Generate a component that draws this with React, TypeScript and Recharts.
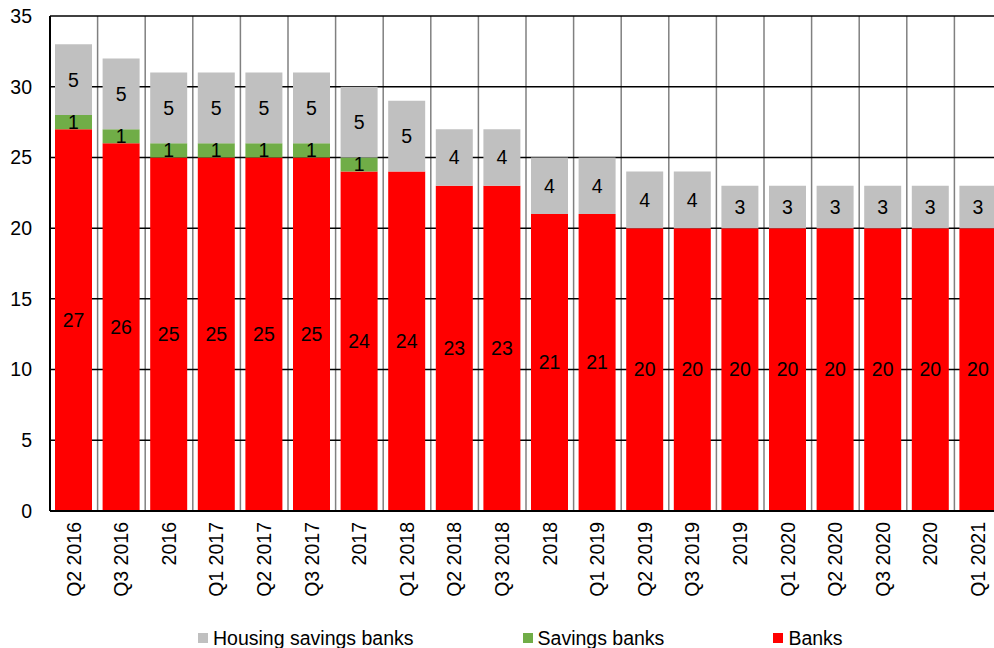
import { BarChart, Bar, XAxis, YAxis, CartesianGrid, Legend, LabelList } from 'recharts'

const categories = [
  'Q2 2016', 'Q3 2016', '2016', 'Q1 2017', 'Q2 2017', 'Q3 2017', '2017', 'Q1 2018', 'Q2 2018', 'Q3 2018',
  '2018', 'Q1 2019', 'Q2 2019', 'Q3 2019', '2019', 'Q1 2020', 'Q2 2020', 'Q3 2020', '2020', 'Q1 2021',
]
const banks = [27, 26, 25, 25, 25, 25, 24, 24, 23, 23, 21, 21, 20, 20, 20, 20, 20, 20, 20, 20]
const savingsBanks = [1, 1, 1, 1, 1, 1, 1, 0, 0, 0, 0, 0, 0, 0, 0, 0, 0, 0, 0, 0]
const housingSavingsBanks = [5, 5, 5, 5, 5, 5, 5, 5, 4, 4, 4, 4, 4, 4, 3, 3, 3, 3, 3, 3]
const yTicks = [0, 5, 10, 15, 20, 25, 30, 35]

const legendItems = [
  { name: 'Housing savings banks', color: '#C0C0C0' },
  { name: 'Savings banks', color: '#70AD47' },
  { name: 'Banks', color: '#FF0000' },
]

const data = categories.map((cat, i) => ({
  cat,
  banks: banks[i],
  savings: savingsBanks[i],
  housing: housingSavingsBanks[i],
}))

const FONT = '"Liberation Sans", Arial, sans-serif'
const FS = 19.5

// eslint-disable-next-line @typescript-eslint/no-explicit-any
function XTick({ x, y, payload }: any) {
  return (
    <g transform={`translate(${x},${y})`}>
      <text transform="rotate(-90)" x={-3} dy="0.35em" textAnchor="end" fill="#000" fontSize={FS} fontFamily={FONT}>
        {payload.value}
      </text>
    </g>
  )
}

function LegendBox() {
  return (
    <div style={{ display: 'flex', height: 26, alignItems: 'center', position: 'relative', top: 3, fontFamily: FONT, fontSize: FS, color: '#000' }}>
      {legendItems.map((it) => (
        <div key={it.name} style={{ display: 'flex', alignItems: 'center', marginRight: 109 }}>
          <span style={{ width: 10, height: 10, background: it.color, marginRight: 5 }} />
          <span>{it.name}</span>
        </div>
      ))}
    </div>
  )
}

// grid lines on the category boundaries instead of the centres
// eslint-disable-next-line @typescript-eslint/no-explicit-any
function boundaryLines({ offset }: any) {
  const n = categories.length
  return Array.from({ length: n + 1 }, (_, i) => offset.left + (i * offset.width) / n)
}

const hideZero = (v: unknown) => (v ? String(v) : '')

export default function App() {
  return (
    <div style={{ position: 'absolute', left: 0, top: 0, width: 994, height: 648, overflow: 'hidden', background: '#fff' }}>
      <BarChart width={1010} height={648} data={data} margin={{ top: 16, right: 8, left: 0, bottom: 0 }}>
        <CartesianGrid horizontal={false} stroke="#808080" strokeWidth={1.5} verticalCoordinatesGenerator={boundaryLines} />
        <CartesianGrid vertical={false} stroke="#000" strokeWidth={1.5} />
        <XAxis
          dataKey="cat"
          interval={0}
          tick={<XTick />}
          tickLine={false}
          axisLine={{ stroke: '#000', strokeWidth: 2 }}
          height={111}
        />
        <YAxis
          domain={[0, 35]}
          ticks={yTicks}
          width={50}
          tickLine={false}
          tickMargin={12}
          axisLine={{ stroke: '#000', strokeWidth: 2 }}
          tick={{ fill: '#000', fontSize: FS, fontFamily: FONT }}
        />
        <Legend verticalAlign="bottom" wrapperStyle={{ left: 198, width: 800 }} content={<LegendBox />} />
        <Bar dataKey="banks" name="Banks" stackId="a" fill="#FF0000" barSize={37} isAnimationActive={false}>
          <LabelList dataKey="banks" position="center" fill="#000" fontSize={FS} fontFamily={FONT} formatter={hideZero} />
        </Bar>
        <Bar dataKey="savings" name="Savings banks" stackId="a" fill="#70AD47" barSize={37} isAnimationActive={false}>
          <LabelList dataKey="savings" position="center" fill="#000" fontSize={FS} fontFamily={FONT} formatter={hideZero} />
        </Bar>
        <Bar dataKey="housing" name="Housing savings banks" stackId="a" fill="#C0C0C0" barSize={37} isAnimationActive={false}>
          <LabelList dataKey="housing" position="center" fill="#000" fontSize={FS} fontFamily={FONT} formatter={hideZero} />
        </Bar>
      </BarChart>
    </div>
  )
}
